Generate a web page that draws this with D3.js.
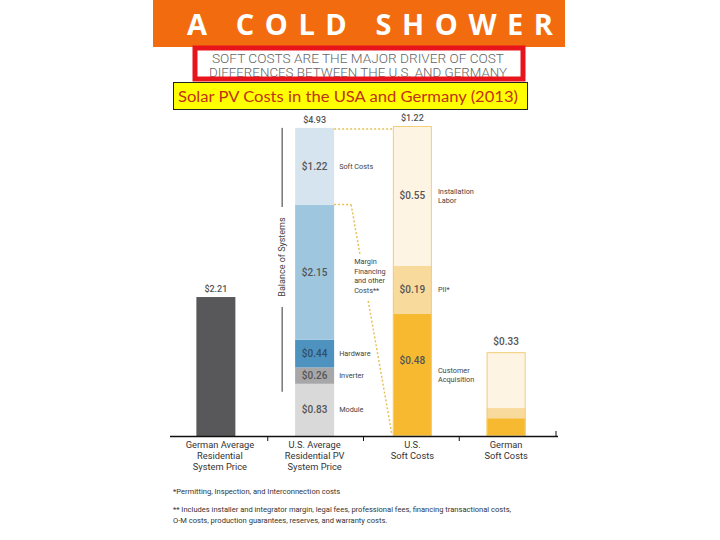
<!DOCTYPE html>
<html>
<head>
<meta charset="utf-8">
<script src="https://cdn.jsdelivr.net/npm/d3@7"></script>
<style>
  body { margin: 0; background: #fff; }
  svg { display: block; }
  text { font-family: Roboto, "Liberation Sans", sans-serif; }
</style>
</head>
<body>
<script>
// chart data
var categories = [
    ["German Average", "Residential", "System Price"],
    ["U.S. Average", "Residential PV", "System Price"],
    ["U.S.", "Soft Costs"],
    ["German", "Soft Costs"]
];
var totalLabels = ["$2.21", "$4.93", "$1.22", "$0.33"];
var germanPrice = 2.21;

// U.S. system price, bottom to top
var usParts = ["Module", "Inverter", "Hardware", "Margin Financing and other Costs**", "Soft Costs"];
var usValues = [0.83, 0.26, 0.44, 2.15, 1.22];

// soft cost breakdown, bottom to top
var softParts = ["Customer Acquisition", "PII*", "Installation Labor"];
var usSoftValues = [0.48, 0.19, 0.55];
var deSoftValues = [0.07, 0.04, 0.22];

var footnotes = [
    "*Permitting, Inspection, and Interconnection costs",
    "** Includes installer and integrator margin, legal fees, professional fees, financing transactional costs,",
    "O-M costs, production guarantees, reserves, and warranty costs."
];

window.onload = drawChart();

function drawChart(){
    var width = 720, height = 540;
    var svg = d3.select("body").append("svg")
        .attr("width", width)
        .attr("height", height);

    //header banner
    svg.append("rect").attr("x", 153).attr("y", 0).attr("width", 412).attr("height", 47)
        .attr("fill", "#f26b0f");
    svg.append("text").attr("x", 187).attr("y", 35)
        .attr("textLength", 366).attr("lengthAdjust", "spacing")
        .style("font-family", "'Open Sans', sans-serif")
        .style("font-weight", "bold").style("font-size", "29px")
        .attr("fill", "#fff")
        .text("A  COLD  SHOWER");

    //subtitle in red frame
    var sub = ["SOFT COSTS ARE THE MAJOR DRIVER OF COST", "DIFFERENCES BETWEEN THE U.S. AND GERMANY"];
    svg.selectAll(".sub").data(sub).enter().append("text")
        .attr("class", "sub")
        .attr("x", 358).attr("y", function(d, i){ return 63 + i * 14; })
        .attr("text-anchor", "middle")
        .attr("textLength", function(d, i){ return i ? 298 : 292; })
        .attr("lengthAdjust", "spacingAndGlyphs")
        .style("font-size", "12.5px").style("font-weight", 300)
        .attr("fill", "#666")
        .text(function(d){ return d; });
    svg.append("rect").attr("x", 195).attr("y", 48).attr("width", 328).attr("height", 31)
        .attr("fill", "none").attr("stroke", "#e8141c").attr("stroke-width", 5);

    //yellow caption box
    svg.append("rect").attr("x", 173.5).attr("y", 82.5).attr("width", 354).attr("height", 27)
        .attr("fill", "#ffff00").attr("stroke", "#222").attr("stroke-width", 1);
    svg.append("text").attr("x", 178).attr("y", 102)
        .attr("textLength", 340).attr("lengthAdjust", "spacingAndGlyphs")
        .style("font-family", "Lato, sans-serif").style("font-size", "15.5px")
        .attr("fill", "#c0321a")
        .text("Solar PV Costs in the USA and Germany (2013)");

    //scales
    var x = d3.scaleBand().domain(d3.range(categories.length)).range([172, 555]);
    var barW = 39;
    var y = d3.scaleLinear().domain([0, 4.93]).range([436, 126]);      //system prices
    var ySoft = d3.scaleLinear().domain([0, 1.22]).range([436, 126]);  //zoomed soft costs

    function cx(i){ return x(i) + x.bandwidth() / 2; }

    var usColors = ["#d9d9d9", "#a7a7a9", "#4e93bf", "#9fc6df", "#d6e4f0"];
    var softColors = ["#f6b92f", "#f8da9c", "#fdf4e4"];

    function stack(vals){
        var acc = 0;
        return vals.map(function(v){ var s = acc; acc += v; return [s, acc]; });
    }

    //German average bar
    svg.append("rect")
        .attr("x", cx(0) - barW / 2 - 4).attr("width", barW)
        .attr("y", y(germanPrice)).attr("height", y(0) - y(germanPrice))
        .attr("fill", "#58585a");

    //U.S. stacked bar
    var usStack = stack(usValues);
    var usX = cx(1) - barW / 2 - 1;
    svg.selectAll(".us").data(usStack).enter().append("rect")
        .attr("class", "us")
        .attr("x", usX).attr("width", barW)
        .attr("y", function(d){ return y(d[1]); })
        .attr("height", function(d){ return y(d[0]) - y(d[1]); })
        .attr("fill", function(d, i){ return usColors[i]; });

    //soft cost bars
    var softSets = [usSoftValues, deSoftValues];
    var softX = [cx(2) - barW / 2 + 1, cx(3) - barW / 2 - 1];
    softSets.forEach(function(vals, k){
        var g = svg.append("g");
        g.selectAll("rect").data(stack(vals)).enter().append("rect")
            .attr("x", softX[k]).attr("width", barW)
            .attr("y", function(d){ return ySoft(d[1]); })
            .attr("height", function(d){ return ySoft(d[0]) - ySoft(d[1]); })
            .attr("fill", function(d, i){ return softColors[i]; });
        var tot = d3.sum(vals);
        g.append("rect")
            .attr("x", softX[k] + 0.5).attr("width", barW - 1)
            .attr("y", ySoft(tot) + 0.5).attr("height", ySoft(0) - ySoft(tot) - 1)
            .attr("fill", "none").attr("stroke", "#f2cf78").attr("stroke-width", 1);
    });

    //dotted connectors
    var dot = "#e6c158";
    var topY = y(d3.sum(usValues)) + 1;
    var softTopY = y(usStack[3][1]);
    svg.append("line")
        .attr("x1", usX + barW).attr("x2", softX[0]).attr("y1", topY).attr("y2", topY)
        .attr("stroke", dot).attr("stroke-width", 1.5).attr("stroke-dasharray", "2,2");
    var p0 = [usX + barW, softTopY], p1 = [usX + barW + 17, softTopY], p2 = [softX[0] - 1, y(0) - 2];
    function along(t){ return [p1[0] + (p2[0] - p1[0]) * t, p1[1] + (p2[1] - p1[1]) * t]; }
    var a = along(0.22), b = along(0.42);
    [[p0, p1], [p1, a], [b, p2]].forEach(function(s){
        svg.append("line")
            .attr("x1", s[0][0]).attr("y1", s[0][1]).attr("x2", s[1][0]).attr("y2", s[1][1])
            .attr("stroke", dot).attr("stroke-width", 1.5).attr("stroke-dasharray", "2,2");
    });

    //value labels inside bars
    var fmt = function(v){ return "$" + d3.format(".2f")(v); };
    svg.selectAll(".usval").data(usStack).enter().append("text")
        .attr("class", "usval")
        .attr("x", usX + barW / 2)
        .attr("y", function(d){ return y((d[0] + d[1]) / 2) + 3.5; })
        .attr("text-anchor", "middle")
        .style("font-size", "10px").style("font-weight", 500)
        .attr("fill", function(d, i){ return i == 2 ? "#2f4f6a" : "#555"; })
        .text(function(d, i){ return fmt(usValues[i]); });

    var usSoftStack = stack(usSoftValues);
    svg.selectAll(".softval").data(usSoftStack).enter().append("text")
        .attr("class", "softval")
        .attr("x", softX[0] + barW / 2)
        .attr("y", function(d, i){
            //bottom label sits in the upper part of its segment
            var m = i == 0 ? d[0] + (d[1] - d[0]) * 0.62 : (d[0] + d[1]) / 2;
            return ySoft(m) + 3.5;
        })
        .attr("text-anchor", "middle")
        .style("font-size", "10px").style("font-weight", 500)
        .attr("fill", "#555")
        .text(function(d, i){ return fmt(usSoftValues[i]); });

    //totals on top
    var tops = [y(germanPrice), y(d3.sum(usValues)), ySoft(d3.sum(usSoftValues)), ySoft(d3.sum(deSoftValues))];
    var topX = [cx(0) - 4, usX + barW / 2, softX[0] + barW / 2, softX[1] + barW / 2];
    svg.selectAll(".tot").data(totalLabels).enter().append("text")
        .attr("class", "tot")
        .attr("x", function(d, i){ return topX[i]; })
        .attr("y", function(d, i){ return tops[i] - (i == 3 ? 7 : 5); })
        .attr("text-anchor", "middle")
        .style("font-size", function(d, i){ return i == 3 ? "10px" : "9px"; })
        .style("font-weight", 500)
        .attr("fill", "#555")
        .text(function(d){ return d; });

    //side labels
    function sideLabel(xPos, yMid, name){
        var lines = name.indexOf("Margin") == 0 ? ["Margin", "Financing", "and other", "Costs**"]
            : name.indexOf(" ") > 0 && name != "Soft Costs" ? name.split(" ") : [name];
        var lh = 9.5;
        svg.append("text")
            .attr("x", xPos).attr("y", yMid - (lines.length - 1) * lh / 2 + 2.5)
            .style("font-size", "7.3px").attr("fill", "#444")
            .selectAll("tspan").data(lines).enter().append("tspan")
            .attr("x", xPos).attr("dy", function(d, i){ return i ? lh : 0; })
            .text(function(d){ return d; });
    }
    usStack.forEach(function(d, i){
        if (i == 3) sideLabel(usX + barW + 20, y((d[0] + d[1]) / 2) + 4, usParts[i]);
        else sideLabel(usX + barW + 5, y((d[0] + d[1]) / 2), usParts[i]);
    });
    usSoftStack.forEach(function(d, i){
        sideLabel(softX[0] + barW + 6, ySoft((d[0] + d[1]) / 2), softParts[i]);
    });

    //balance of systems bracket
    var bx = usX - 13;
    var bTop = y(d3.sum(usValues)), bBot = y(usStack[0][1]) + 8, bMid = 257;
    svg.append("line").attr("x1", bx).attr("x2", bx).attr("y1", bTop).attr("y2", bMid - 50)
        .attr("stroke", "#333").attr("stroke-width", 1);
    svg.append("line").attr("x1", bx).attr("x2", bx).attr("y1", bMid + 50).attr("y2", bBot)
        .attr("stroke", "#333").attr("stroke-width", 1);
    svg.append("text")
        .attr("transform", "translate(" + (bx + 3) + "," + bMid + ") rotate(-90)")
        .attr("text-anchor", "middle")
        .style("font-size", "9px").attr("fill", "#444")
        .text("Balance of Systems");

    //baseline axis
    var axis = svg.append("g");
    axis.append("line").attr("x1", 170).attr("x2", 558).attr("y1", 436.5).attr("y2", 436.5)
        .attr("stroke", "#111").attr("stroke-width", 1.5);
    axis.selectAll(".tick").data(d3.range(1, categories.length + 1)).enter().append("line")
        .attr("x1", function(i){ return i < categories.length ? x(i) : 556; })
        .attr("x2", function(i){ return i < categories.length ? x(i) : 556; })
        .attr("y1", function(i){ return i < categories.length ? 436 : 431; })
        .attr("y2", function(i){ return i < categories.length ? 441 : 437; })
        .attr("stroke", "#111").attr("stroke-width", 1);

    //category labels
    svg.selectAll(".cat").data(categories).enter().append("text")
        .attr("class", "cat")
        .attr("y", 448)
        .attr("text-anchor", "middle")
        .style("font-size", "9.3px").attr("fill", "#333")
        .selectAll("tspan").data(function(d, i){ return d.map(function(t){ return [t, i]; }); })
        .enter().append("tspan")
        .attr("x", function(d){ return topX[d[1]] + (d[1] == 0 ? 4 : 0); })
        .attr("dy", function(d, i){ return i ? 11 : 0; })
        .text(function(d){ return d[0]; });

    //footnotes
    svg.selectAll(".fn").data(footnotes).enter().append("text")
        .attr("class", "fn")
        .attr("x", 173)
        .attr("y", function(d, i){ return [494, 512, 523][i]; })
        .style("font-size", "7.55px").attr("fill", "#333")
        .text(function(d){ return d; });
}
</script>
</body>
</html>
